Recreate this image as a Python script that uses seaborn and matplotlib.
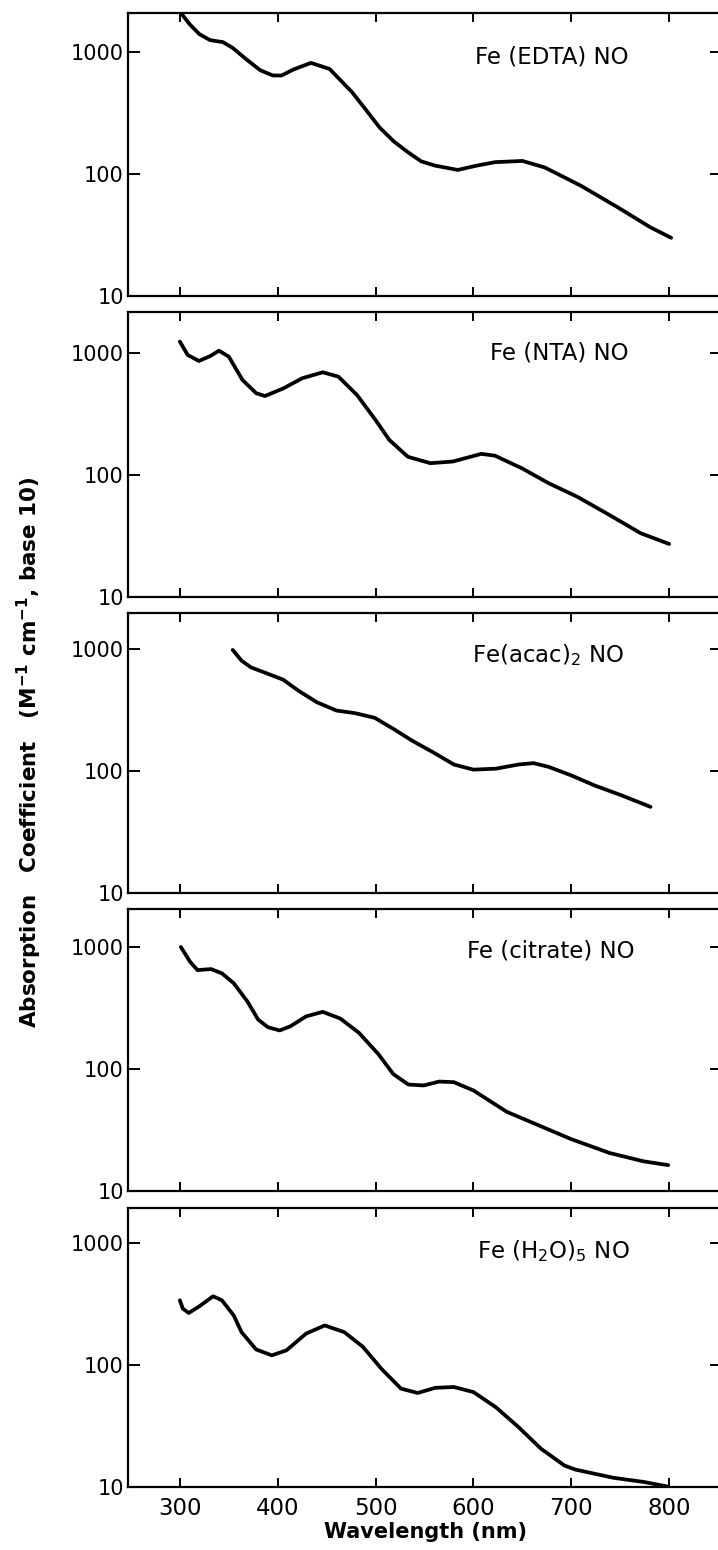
import matplotlib
matplotlib.use("Agg")
import matplotlib.pyplot as plt
from matplotlib.ticker import FixedLocator, FixedFormatter, NullLocator
import pandas as pd
import seaborn as sns

# Spectra of iron nitrosyl complexes, top panel to bottom panel
complex_labels = [
    "Fe (EDTA) NO",
    "Fe (NTA) NO",
    r"Fe(acac)$_2$ NO",
    "Fe (citrate) NO",
    r"Fe (H$_2$O)$_5$ NO",
]

edta_nm = [300, 302, 310, 320, 331, 344, 354, 368, 382, 395, 404, 416, 434, 453,
           476, 490, 504, 518.6, 533, 546.6, 561, 584, 603, 622, 650, 673, 710, 748, 781, 802]
edta_eps = [2200, 2040, 1690, 1400, 1250, 1205, 1080, 870, 710, 642, 642, 719, 814, 726,
            468, 337, 241, 185, 151, 127, 117, 108, 117, 125, 128, 113, 80, 53, 36.5, 30]

nta_nm = [300, 308, 319.5, 331, 340, 350, 364, 378, 387, 406, 425, 446, 462, 481,
          500, 514, 533, 556, 579, 608, 622, 650, 677, 706, 739, 771, 800]
nta_eps = [1240, 963, 860, 944, 1045, 933, 601, 468, 444, 514, 621, 695, 640, 453,
           282, 194, 141, 125, 129, 149, 144, 113, 85.5, 66.4, 47, 33.3, 27.2]

acac_nm = [354, 363, 372.5, 386, 405.5, 421, 440, 460, 479, 499, 518, 537, 561, 580,
           600, 623, 646, 661.5, 677, 700, 724, 751, 781]
acac_eps = [982, 803, 708, 644, 561, 456, 366, 313, 298, 273, 222, 178, 139, 113,
            102.6, 104.5, 113, 116, 108, 92, 76, 63.3, 50.8]

citrate_nm = [301, 310.5, 318, 332, 343, 355, 369, 380, 390, 402, 413, 429, 446, 464,
              483, 503, 518, 533.5, 549, 565, 580, 600, 634, 666, 700, 739, 774, 799]
citrate_eps = [1000, 756, 647, 659, 608, 505, 358, 254, 220, 207, 224, 270, 294, 259,
               198, 132, 91, 74.6, 73.3, 78.9, 78, 66.7, 44.6, 34.7, 26.6, 20.5, 17.5, 16.3]

aqua_nm = [300, 303, 309, 320, 334, 343, 355, 363, 378, 394, 409, 429, 448, 468, 487,
           506, 526, 543, 561, 580, 600, 623, 646, 669, 693, 704, 743, 774, 798]
aqua_eps = [339, 290, 267, 303, 366, 339, 255, 186, 134, 120, 132, 181, 211, 186, 141,
            93, 64, 59, 65, 66, 60, 45, 31, 20.6, 15, 13.9, 11.9, 11, 10.1]

spectra = [(edta_nm, edta_eps), (nta_nm, nta_eps), (acac_nm, acac_eps),
           (citrate_nm, citrate_eps), (aqua_nm, aqua_eps)]

x_ticks = [300, 400, 500, 600, 700, 800]
x_tick_labels = ["300", "400", "500", "600", "700", "800"]
y_ticks = [10, 100, 1000]
y_tick_labels = ["10", "100", "1000"]

sns.set_style("ticks")
plt.rcParams["font.family"] = ["DejaVu Sans"]
plt.rcParams["mathtext.fontset"] = "dejavusans"
for key in ["text.color", "axes.labelcolor", "xtick.color", "ytick.color",
            "xtick.labelcolor", "ytick.labelcolor", "axes.edgecolor"]:
    plt.rcParams[key] = "black"

W, H = 718, 1550
fig = plt.figure(figsize=(W / 100, H / 100), dpi=100)
fig.patch.set_facecolor("white")

# panel frames in pixels (top, bottom) and the shared horizontal extent
panel_px = [(13, 296), (312, 597), (613, 893), (909, 1191), (1208, 1487)]
left_px, right_px = 128, 722
decade_px = 122.0
x_limits = (247, 854)

# label anchor points in pixels (centre x, baseline y)
label_pos = [(552, 63), (559, 360), (548, 662), (551, 958), (553, 1258)]

for i, ((top, bot), (nm, eps), name) in enumerate(zip(panel_px, spectra, complex_labels)):
    ax = fig.add_axes([left_px / W, 1 - bot / H, (right_px - left_px) / W, (bot - top) / H])
    df = pd.DataFrame({"Wavelength": nm, "Absorption": eps})
    sns.lineplot(data=df, x="Wavelength", y="Absorption", ax=ax, color="black",
                 lw=2.7, sort=False, estimator=None,
                 solid_joinstyle="round", solid_capstyle="round")
    ax.set_yscale("log")
    ax.set_xlim(*x_limits)
    ax.set_ylim(10, 10 ** (1 + (bot - top) / decade_px))
    ax.set_xlabel("")
    ax.set_ylabel("")

    ax.xaxis.set_major_locator(FixedLocator(x_ticks))
    ax.yaxis.set_major_locator(FixedLocator(y_ticks))
    ax.yaxis.set_major_formatter(FixedFormatter(y_tick_labels))
    ax.xaxis.set_minor_locator(NullLocator())
    ax.yaxis.set_minor_locator(NullLocator())
    if i == len(panel_px) - 1:
        ax.xaxis.set_major_formatter(FixedFormatter(x_tick_labels))
    else:
        ax.set_xticklabels([])

    ax.tick_params(axis="x", which="major", direction="in", top=True, bottom=True,
                   length=6.5, width=1.4, labelsize=16.5, pad=7,
                   color="black", labelcolor="black")
    ax.tick_params(axis="y", which="major", direction="in", left=True, right=True,
                   length=8.6, width=1.4, labelsize=15, pad=3,
                   color="black", labelcolor="black")
    for sp in ax.spines.values():
        sp.set_linewidth(1.6)
        sp.set_color("black")
        sp.set_visible(True)

    cx, by = label_pos[i]
    fig.text(cx / W, 1 - by / H, name, ha="center", va="baseline", fontsize=16.5,
             color="black")

fig.text(29 / W, 1 - 752 / H,
         r"Absorption   Coefficient   (M$^{\mathbf{-1}}$ cm$^{\mathbf{-1}}$, base 10)",
         rotation=90, ha="center", va="center", fontsize=15.5, fontweight="bold",
         color="black")
fig.text(425 / W, 1 - 1532 / H, "Wavelength (nm)", ha="center", va="center",
         fontsize=15, fontweight="bold", color="black")

fig.savefig("out.png", dpi=100, facecolor="white")
